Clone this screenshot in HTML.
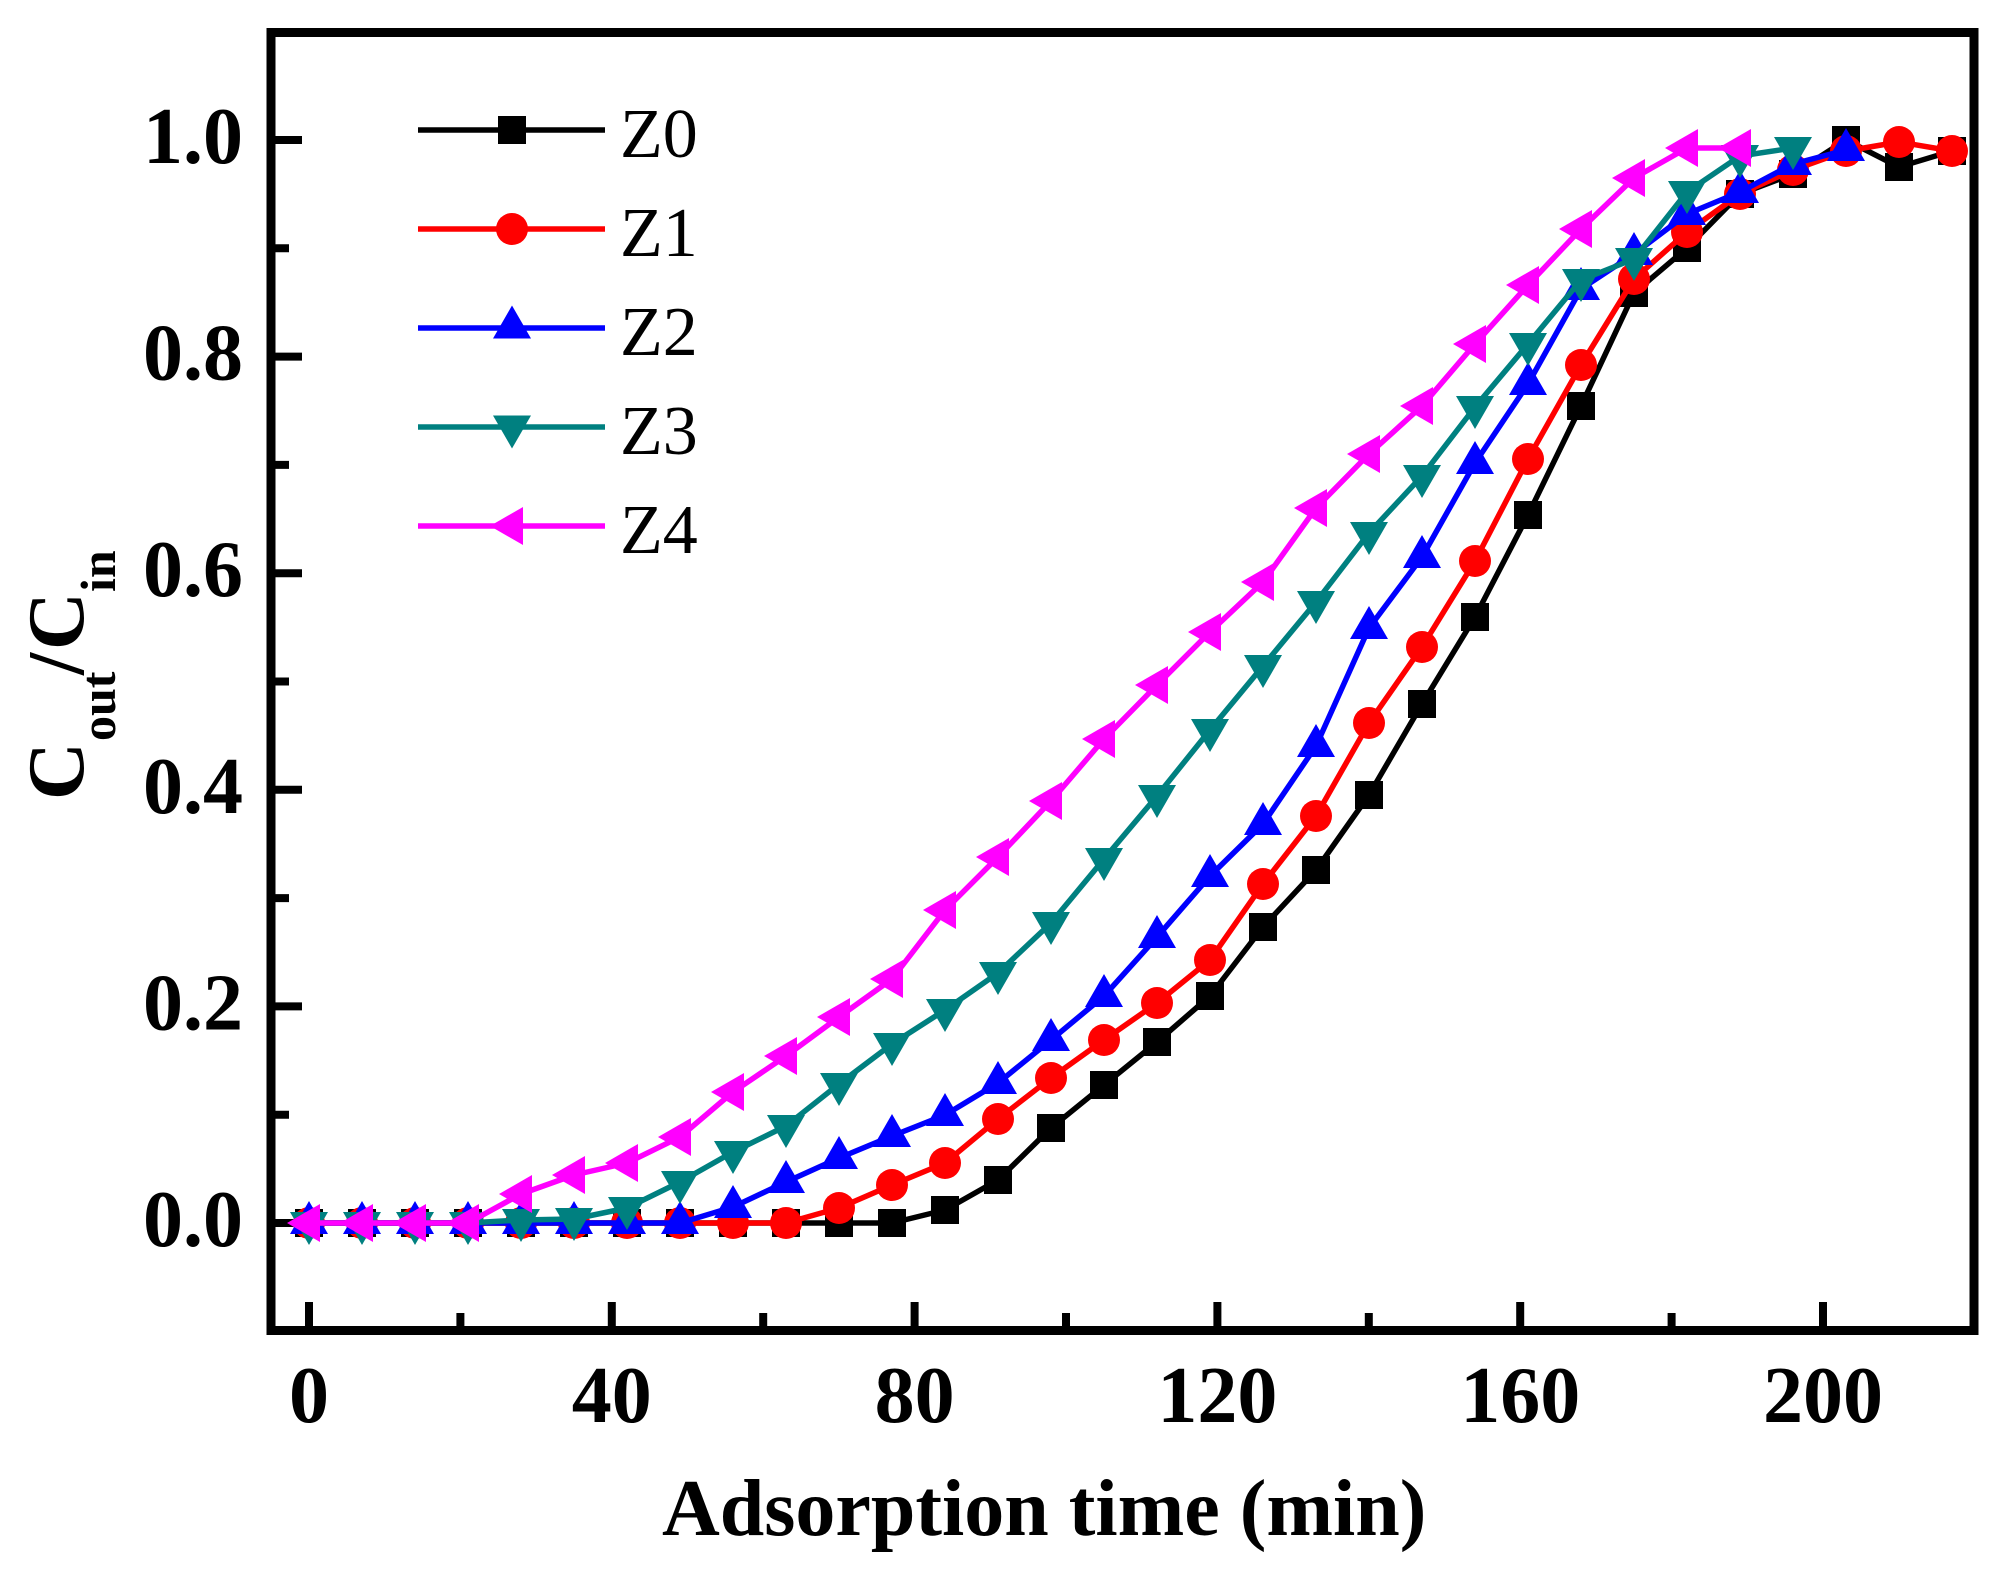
<!DOCTYPE html>
<html>
<head>
<meta charset="utf-8">
<style>
  html, body { margin: 0; padding: 0; background: #ffffff; }
  svg { display: block; }
  text { font-family: "Liberation Serif", "Times New Roman", serif; fill: #000; }
</style>
</head>
<body>
<svg width="2004" height="1575" viewBox="0 0 2004 1575" xmlns="http://www.w3.org/2000/svg">
  <defs>
    <marker id="mSq" markerUnits="userSpaceOnUse" markerWidth="30" markerHeight="30" viewBox="0 0 30 30" refX="15" refY="15" overflow="visible">
      <rect x="1" y="1" width="28" height="28" fill="#000"/>
    </marker>
    <marker id="mCi" markerUnits="userSpaceOnUse" markerWidth="34" markerHeight="34" viewBox="0 0 34 34" refX="17" refY="17" overflow="visible">
      <circle cx="17" cy="17" r="16" fill="#ff0000"/>
    </marker>
    <marker id="mUp" markerUnits="userSpaceOnUse" markerWidth="40" markerHeight="36" viewBox="0 0 40 36" refX="20" refY="22.5" overflow="visible">
      <polygon points="20,0.5 1,33.5 39,33.5" fill="#0000ff"/>
    </marker>
    <marker id="mDn" markerUnits="userSpaceOnUse" markerWidth="40" markerHeight="36" viewBox="0 0 40 36" refX="20" refY="11.5" overflow="visible">
      <polygon points="1,0.5 39,0.5 20,33.5" fill="#008080"/>
    </marker>
    <marker id="mLf" markerUnits="userSpaceOnUse" markerWidth="36" markerHeight="40" viewBox="0 0 36 40" refX="22.5" refY="20" overflow="visible">
      <polygon points="0.5,20 33.5,1 33.5,39" fill="#ff00ff"/>
    </marker>
  </defs>

  <!-- ticks -->
  <g stroke="#000" stroke-width="8">
    <line x1="271" y1="1223" x2="302" y2="1223"/>
    <line x1="271" y1="1006.4" x2="302" y2="1006.4"/>
    <line x1="271" y1="789.8" x2="302" y2="789.8"/>
    <line x1="271" y1="573.2" x2="302" y2="573.2"/>
    <line x1="271" y1="356.6" x2="302" y2="356.6"/>
    <line x1="271" y1="140" x2="302" y2="140"/>
    <line x1="271" y1="1114.7" x2="289" y2="1114.7"/>
    <line x1="271" y1="898.1" x2="289" y2="898.1"/>
    <line x1="271" y1="681.5" x2="289" y2="681.5"/>
    <line x1="271" y1="464.9" x2="289" y2="464.9"/>
    <line x1="271" y1="248.3" x2="289" y2="248.3"/>
    <line x1="309" y1="1330" x2="309" y2="1302"/>
    <line x1="611.8" y1="1330" x2="611.8" y2="1302"/>
    <line x1="914.6" y1="1330" x2="914.6" y2="1302"/>
    <line x1="1217.4" y1="1330" x2="1217.4" y2="1302"/>
    <line x1="1520.2" y1="1330" x2="1520.2" y2="1302"/>
    <line x1="1823" y1="1330" x2="1823" y2="1302"/>
    <line x1="460.4" y1="1330" x2="460.4" y2="1313"/>
    <line x1="763.2" y1="1330" x2="763.2" y2="1313"/>
    <line x1="1066" y1="1330" x2="1066" y2="1313"/>
    <line x1="1368.8" y1="1330" x2="1368.8" y2="1313"/>
    <line x1="1671.6" y1="1330" x2="1671.6" y2="1313"/>
  </g>

  <!-- frame -->
  <rect x="271" y="32.5" width="1703" height="1298" fill="none" stroke="#000" stroke-width="9"/>

  <!-- data series -->
  <g fill="none" stroke-width="5.5" stroke-linejoin="round">
    <polyline stroke="#000000" marker-start="url(#mSq)" marker-mid="url(#mSq)" marker-end="url(#mSq)"
      points="309,1223 362,1223 415,1223 468,1223 521,1223 574,1223 627,1223 680,1223 733,1223 786,1223 839,1223 892,1223 945,1210 998,1180 1051,1128 1104,1085 1157,1042 1210,996 1263,927 1316,870 1369,795 1422,704 1475,617 1528,515 1581,406 1634,293 1687,248 1740,194 1793,174 1846,140 1899,167 1952,151"/>
    <polyline stroke="#ff0000" marker-start="url(#mCi)" marker-mid="url(#mCi)" marker-end="url(#mCi)"
      points="309,1223 362,1223 415,1223 468,1223 521,1223 574,1223 627,1223 680,1223 733,1223 786,1223 839,1208 892,1185 945,1163 998,1119 1051,1078 1104,1040 1157,1003 1210,960 1263,884 1316,816 1369,723 1422,647 1475,561 1528,459 1581,365 1634,279 1687,232 1740,194 1793,170 1846,151 1899,142 1952,151"/>
    <polyline stroke="#0000ff" marker-start="url(#mUp)" marker-mid="url(#mUp)" marker-end="url(#mUp)"
      points="309,1223 362,1223 415,1223 468,1223 521,1223 574,1223 627,1223 680,1223 733,1207 786,1182 839,1158 892,1136 945,1115 998,1083 1051,1040 1104,996 1157,937 1210,876 1263,824 1316,746 1369,628 1422,557 1475,463 1528,384 1581,289 1634,254 1687,214 1740,192 1793,164 1846,150"/>
    <polyline stroke="#008080" marker-start="url(#mDn)" marker-mid="url(#mDn)" marker-end="url(#mDn)"
      points="309,1223 362,1223 415,1223 468,1223 521,1220 574,1219 627,1208 680,1182 733,1152 786,1126 839,1084 892,1044 945,1010 998,973 1051,923 1104,859 1157,796 1210,730 1263,666 1316,602 1369,533 1422,476 1475,407 1528,344 1581,280 1634,259 1687,192 1740,156 1793,148"/>
    <polyline stroke="#ff00ff" marker-start="url(#mLf)" marker-mid="url(#mLf)" marker-end="url(#mLf)"
      points="309,1223 362,1223 415,1223 468,1223 521,1194 574,1175 627,1163 680,1137 733,1092 786,1056 839,1017 892,979 945,910 998,857 1051,801 1104,739 1157,685 1210,632 1263,582 1316,508 1369,454 1422,406 1475,344 1528,285 1581,229 1634,178 1687,148 1740,148"/>
  </g>

  <!-- legend -->
  <g stroke-width="5.5">
    <line x1="418" y1="130" x2="605" y2="130" stroke="#000000"/>
    <rect x="498" y="116" width="28" height="28" fill="#000000" stroke="none"/>
    <line x1="418" y1="229" x2="605" y2="229" stroke="#ff0000"/>
    <circle cx="512" cy="229" r="16" fill="#ff0000" stroke="none"/>
    <line x1="418" y1="328" x2="605" y2="328" stroke="#0000ff"/>
    <polygon points="512,305.5 493,338.5 531,338.5" fill="#0000ff" stroke="none"/>
    <line x1="418" y1="427" x2="605" y2="427" stroke="#008080"/>
    <polygon points="493,415.5 531,415.5 512,448.5" fill="#008080" stroke="none"/>
    <line x1="418" y1="526" x2="605" y2="526" stroke="#ff00ff"/>
    <polygon points="490,526 523,507 523,545" fill="#ff00ff" stroke="none"/>
  </g>
  <g font-size="70">
    <text x="620" y="157">Z0</text>
    <text x="620" y="256">Z1</text>
    <text x="620" y="355">Z2</text>
    <text x="620" y="454">Z3</text>
    <text x="620" y="553">Z4</text>
  </g>

  <!-- y tick labels -->
  <g font-size="80" font-weight="bold" text-anchor="end">
    <text x="243" y="1246">0.0</text>
    <text x="243" y="1029.4">0.2</text>
    <text x="243" y="812.8">0.4</text>
    <text x="243" y="596.2">0.6</text>
    <text x="243" y="379.6">0.8</text>
    <text x="243" y="163">1.0</text>
  </g>

  <!-- x tick labels -->
  <g font-size="80" font-weight="bold" text-anchor="middle">
    <text x="309" y="1422">0</text>
    <text x="611.8" y="1422">40</text>
    <text x="914.6" y="1422">80</text>
    <text x="1217.4" y="1422">120</text>
    <text x="1520.2" y="1422">160</text>
    <text x="1823" y="1422">200</text>
  </g>

  <!-- x axis title -->
  <text x="662" y="1535" font-size="80" font-weight="bold">Adsorption time (min)</text>

  <!-- y axis title -->
  <g transform="translate(83,797) rotate(-90)" font-weight="bold">
    <text x="-3" y="0" font-size="80">C</text>
    <text x="56" y="32" font-size="50">out</text>
    <text x="122" y="0" font-size="80">/</text>
    <text x="147" y="0" font-size="80">C</text>
    <text x="205" y="32" font-size="50">in</text>
  </g>
</svg>
</body>
</html>
